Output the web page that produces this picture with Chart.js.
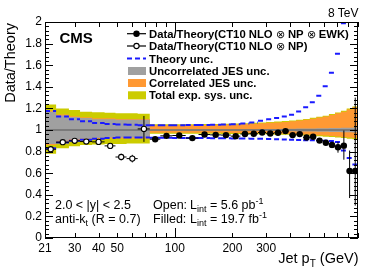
<!DOCTYPE html>
<html><head><meta charset="utf-8">
<script src="https://cdn.jsdelivr.net/npm/chart.js@4.4.1/dist/chart.umd.min.js"></script>
<style>
html,body{margin:0;padding:0;background:#fff;}
#wrap{position:relative;width:374px;height:270px;overflow:hidden;}
canvas{position:absolute;left:0;top:0;}
svg{position:absolute;left:0;top:0;pointer-events:none;}
text{font-family:"Liberation Sans",Arial,Helvetica,sans-serif;fill:#000;}
</style></head><body>
<div id="wrap"><canvas id="c" width="374" height="270"></canvas>
<svg width="374" height="270" xmlns="http://www.w3.org/2000/svg">
  <text x="59.5" y="42.5" font-size="15" font-weight="bold">CMS</text>
  <text x="358.5" y="17.3" font-size="12" text-anchor="end">8 TeV</text>
  <text transform="translate(14.5,23) rotate(-90)" text-anchor="end" font-size="14.5">Data/Theory</text>
  <text x="358.5" y="263" text-anchor="end" font-size="14.5">Jet p<tspan font-size="10" dy="4">T</tspan><tspan dy="-4"> (GeV)</tspan></text>
  <text x="55" y="209" font-size="12.5">2.0 &lt; |y| &lt; 2.5</text>
  <text x="55" y="223" font-size="12.5">anti-k<tspan font-size="9" dy="3">t</tspan><tspan dy="-3"> (R = 0.7)</tspan></text>
  <text x="153" y="209" font-size="12.5">Open:</text>
  <text x="190" y="209" font-size="12.5">L<tspan font-size="9" dy="3">int</tspan><tspan dy="-3"> = 5.6 pb</tspan><tspan font-size="9" dy="-5">-1</tspan></text>
  <text x="153" y="223" font-size="12.5">Filled:</text>
  <text x="190" y="223" font-size="12.5">L<tspan font-size="9" dy="3">int</tspan><tspan dy="-3"> = 19.7 fb</tspan><tspan font-size="9" dy="-5">-1</tspan></text>
  <!-- legend symbols -->
  <line x1="127" y1="33.7" x2="146" y2="33.7" stroke="#000" stroke-width="1.2"/>
  <circle cx="136.5" cy="33.7" r="3.2" fill="#000"/>
  <line x1="127" y1="46" x2="146" y2="46" stroke="#000" stroke-width="1.2"/>
  <circle cx="136.5" cy="46" r="2.6" fill="#fff" stroke="#000" stroke-width="1.1"/>
  <line x1="127" y1="58.5" x2="146" y2="58.5" stroke="#1a1aff" stroke-width="2" stroke-dasharray="5,3"/>
  <rect x="128" y="67" width="18" height="8" fill="#a0a0a0"/>
  <rect x="128" y="79" width="18" height="8" fill="#ff9933"/>
  <rect x="128" y="91.3" width="18" height="8" fill="#cccc00"/>
  <g font-size="11.3" font-weight="bold">
    <text x="149" y="37.7">Data/Theory(CT10 NLO <tspan font-weight="normal">⊗</tspan> NP <tspan font-weight="normal">⊗</tspan> EWK)</text>
    <text x="149" y="50">Data/Theory(CT10 NLO <tspan font-weight="normal">⊗</tspan> NP)</text>
    <text x="149" y="62.5">Theory unc.</text>
    <text x="149" y="75">Uncorrelated JES unc.</text>
    <text x="149" y="87">Correlated JES unc.</text>
    <text x="149" y="99.3">Total exp. sys. unc.</text>
  </g>
</svg></div>
<script>
// ---- data ----
const binEdges = [21,24,28,32,37,43,49,56,64,74,84,97,114,133,153,174,196,220,245,272,300,330,362,395,430,468,507,548,592,638,686,737,790,846,905];
const xTickLabels = [21,30,40,50,100,200,300];
const xTickMarks = [30,40,50,60,70,80,90,100,200,300,400,500,600,700,800,900];

// open points: bins 0..8 (5.6 pb-1)
const openVal = [0.822,0.887,0.900,0.893,0.890,0.853,0.750,0.735,1.010];
const openErr = [0.010,0.010,0.010,0.010,0.012,0.025,0.030,0.035,0.120];
// filled points: bins 9..33 (19.7 fb-1)
const fillVal = [0.915,0.946,0.949,0.925,0.958,0.955,0.953,0.943,0.963,0.965,0.977,0.967,0.974,0.990,0.953,0.962,0.930,0.937,0.902,0.882,0.862,0.840,0.855,0.620,0.620];
const fillErrUp = [0.004,0.004,0.004,0.004,0.004,0.004,0.004,0.005,0.005,0.005,0.006,0.006,0.007,0.008,0.009,0.010,0.012,0.014,0.017,0.022,0.030,0.050,0.140,0.190,0.680];
const fillErrDn = [0.004,0.004,0.004,0.004,0.004,0.004,0.004,0.005,0.005,0.005,0.006,0.006,0.007,0.008,0.009,0.010,0.012,0.014,0.017,0.022,0.030,0.050,0.130,0.250,0.320];

// theory uncertainty (all 34 bins)
const theoryUp = [1.175,1.125,1.100,1.080,1.065,1.055,1.050,1.048,1.045, 1.045,1.045,1.045,1.046,1.047,1.048,1.050,1.053,1.060,1.070,1.085,1.100,1.110,1.126,1.141,1.172,1.210,1.256,1.318,1.405,1.529,1.706,1.988,2.300,2.700];
const theoryDn = [0.830,0.885,0.900,0.910,0.920,0.925,0.930,0.930,0.930, 0.928,0.928,0.927,0.926,0.925,0.924,0.923,0.922,0.921,0.920,0.918,0.916,0.914,0.912,0.910,0.908,0.906,0.904,0.902,0.900,0.897,0.890,0.810,0.740,0.680];

// uncertainty bands (all 34 bins)
const uncorrUp = [1.170,1.135,1.120,1.110,1.100,1.100,1.095,1.095,1.095, 1.006,1.006,1.006,1.006,1.006,1.007,1.007,1.007,1.008,1.008,1.009,1.009,1.010,1.011,1.012,1.013,1.014,1.015,1.016,1.017,1.018,1.019,1.020,1.021,1.022];
const uncorrDn = [0.870,0.900,0.915,0.920,0.925,0.930,0.930,0.930,0.930, 0.994,0.994,0.994,0.994,0.994,0.993,0.993,0.993,0.992,0.992,0.991,0.991,0.990,0.989,0.988,0.987,0.986,0.985,0.984,0.983,0.982,0.981,0.980,0.979,0.978];
const corrUp = [1.178,1.143,1.128,1.118,1.108,1.108,1.103,1.103,1.103, 1.045,1.045,1.045,1.046,1.047,1.048,1.050,1.052,1.055,1.058,1.062,1.066,1.070,1.075,1.080,1.087,1.095,1.105,1.115,1.125,1.140,1.155,1.170,1.190,1.210];
const corrDn = [0.862,0.892,0.907,0.912,0.917,0.922,0.922,0.922,0.922, 0.975,0.975,0.975,0.975,0.975,0.975,0.974,0.973,0.972,0.971,0.970,0.969,0.967,0.965,0.963,0.960,0.958,0.955,0.952,0.948,0.945,0.940,0.935,0.930,0.925];
const totUp = [1.235,1.200,1.185,1.170,1.165,1.160,1.155,1.155,1.150, 1.053,1.053,1.053,1.054,1.055,1.056,1.058,1.060,1.063,1.066,1.070,1.074,1.078,1.083,1.088,1.095,1.103,1.113,1.123,1.133,1.148,1.163,1.178,1.198,1.218];
const totDn = [0.780,0.830,0.850,0.860,0.865,0.870,0.870,0.875,0.875, 0.965,0.965,0.965,0.965,0.965,0.965,0.964,0.963,0.962,0.961,0.960,0.959,0.957,0.955,0.953,0.950,0.948,0.945,0.942,0.938,0.935,0.930,0.925,0.920,0.915];

// ---- builders ----
const lo = binEdges.slice(0,-1), hi = binEdges.slice(1);
function stepPts(vals){ const p=[]; vals.forEach((v,i)=>{p.push({x:lo[i],y:v},{x:hi[i],y:v});}); return p; }
function segPts(vals){ const p=[]; vals.forEach((v,i)=>{p.push({x:lo[i],y:v},{x:hi[i],y:v},{x:hi[i],y:null});}); return p; }
function ptPts(vals, off){ return vals.map((v,i)=>({x:(lo[i+off]+hi[i+off])/2, y:v})); }
function errPts(vals, eu, ed, off){
  const p=[];
  vals.forEach((v,i)=>{ const a=lo[i+off], b=hi[i+off], c=(a+b)/2;
    p.push({x:a,y:v},{x:b,y:v},{x:b,y:null},{x:c,y:v-ed[i]},{x:c,y:v+eu[i]},{x:c,y:null}); });
  return p;
}
const none = 'rgba(0,0,0,0)';
const band = (data, color, fill, order) => ({data, fill, backgroundColor: color, borderColor: none, borderWidth: 0, pointRadius: 0, order});

const datasets = [
  {data: ptPts(fillVal, 9), showLine:false, pointRadius:3.2, pointBackgroundColor:'#000', pointBorderColor:'#000', pointBorderWidth:0, order:0},
  {data: errPts(fillVal, fillErrUp, fillErrDn, 9), borderColor:'#000', borderWidth:1, pointRadius:0, spanGaps:false, order:1},
  {data: ptPts(openVal, 0), showLine:false, pointRadius:2.6, pointBackgroundColor:'#fff', pointBorderColor:'#000', pointBorderWidth:1.1, order:2},
  {data: errPts(openVal, openErr, openErr, 0), borderColor:'#000', borderWidth:1, pointRadius:0, spanGaps:false, order:3},
  {data: segPts(theoryUp), borderColor:'#1a1aff', borderWidth:2, borderDash:[5,3], pointRadius:0, spanGaps:false, order:4},
  {data: segPts(theoryDn), borderColor:'#1a1aff', borderWidth:2, borderDash:[5,3], pointRadius:0, spanGaps:false, order:4},
  {data: [{x:binEdges[0],y:1},{x:binEdges[binEdges.length-1],y:1}], borderColor:'#555', borderWidth:1, pointRadius:0, order:5},
  band(stepPts(uncorrUp), '#a0a0a0', '+1', 6),
  band(stepPts(uncorrDn), '#a0a0a0', false, 6),
  band(stepPts(corrUp), '#ff9933', '+1', 7),
  band(stepPts(corrDn), '#ff9933', false, 7),
  band(stepPts(totUp), '#cccc00', '+1', 8),
  band(stepPts(totDn), '#cccc00', false, 8)
];

const frameTicks = {
  id:'frameTicks',
  afterDatasetsDraw(chart){
    const {ctx, chartArea:a, scales} = chart; const xs=scales.x, ys=scales.y;
    ctx.save(); ctx.strokeStyle='#000'; ctx.lineWidth=1; ctx.setLineDash([]);
    ctx.beginPath();
    for(let k=0;k<=50;k++){
      const v=k*0.04, L=(k%5===0)?8:4;
      const py=Math.round(ys.getPixelForValue(v))+0.5;
      ctx.moveTo(a.left,py); ctx.lineTo(a.left+L,py);
      ctx.moveTo(a.right,py); ctx.lineTo(a.right-L,py);
    }
    xTickMarks.forEach(v=>{
      const L = v===100?10:5;
      const px=Math.round(xs.getPixelForValue(v))+0.5;
      ctx.moveTo(px,a.bottom); ctx.lineTo(px,a.bottom-L);
      ctx.moveTo(px,a.top); ctx.lineTo(px,a.top+L);
    });
    ctx.stroke();
    ctx.strokeRect(Math.round(a.left)+0.5, Math.round(a.top)+0.5, Math.round(a.right-a.left)-1, Math.round(a.bottom-a.top)-1);
    ctx.restore();
  }
};

Chart.defaults.font.family = '"Liberation Sans", Arial, Helvetica, sans-serif';
Chart.defaults.color = '#000';
new Chart(document.getElementById('c'), {
  type:'line',
  data:{datasets},
  options:{
    responsive:false, animation:false, events:[],
    layout:{padding:{top:22,right:16,left:0,bottom:0}},
    plugins:{legend:{display:false}, tooltip:{enabled:false}},
    scales:{
      x:{type:'logarithmic', min:binEdges[0], max:binEdges[binEdges.length-1],
         grid:{display:false, drawTicks:false}, border:{display:false},
         afterBuildTicks:(s)=>{ s.ticks = xTickLabels.map(v=>({value:v})); },
         afterFit:(s)=>{ s.height = 32; },
         ticks:{autoSkip:false, maxRotation:0, padding:3, font:{size:12}, callback:(v)=>String(v)}},
      y:{min:0, max:2,
         grid:{display:false, drawTicks:false}, border:{display:false},
         afterFit:(s)=>{ s.width = 45; },
         ticks:{stepSize:0.2, padding:3, font:{size:12}, callback:(v)=>String(Math.round(v*10)/10)}}
    }
  },
  plugins:[frameTicks]
});
</script>
</body></html>
